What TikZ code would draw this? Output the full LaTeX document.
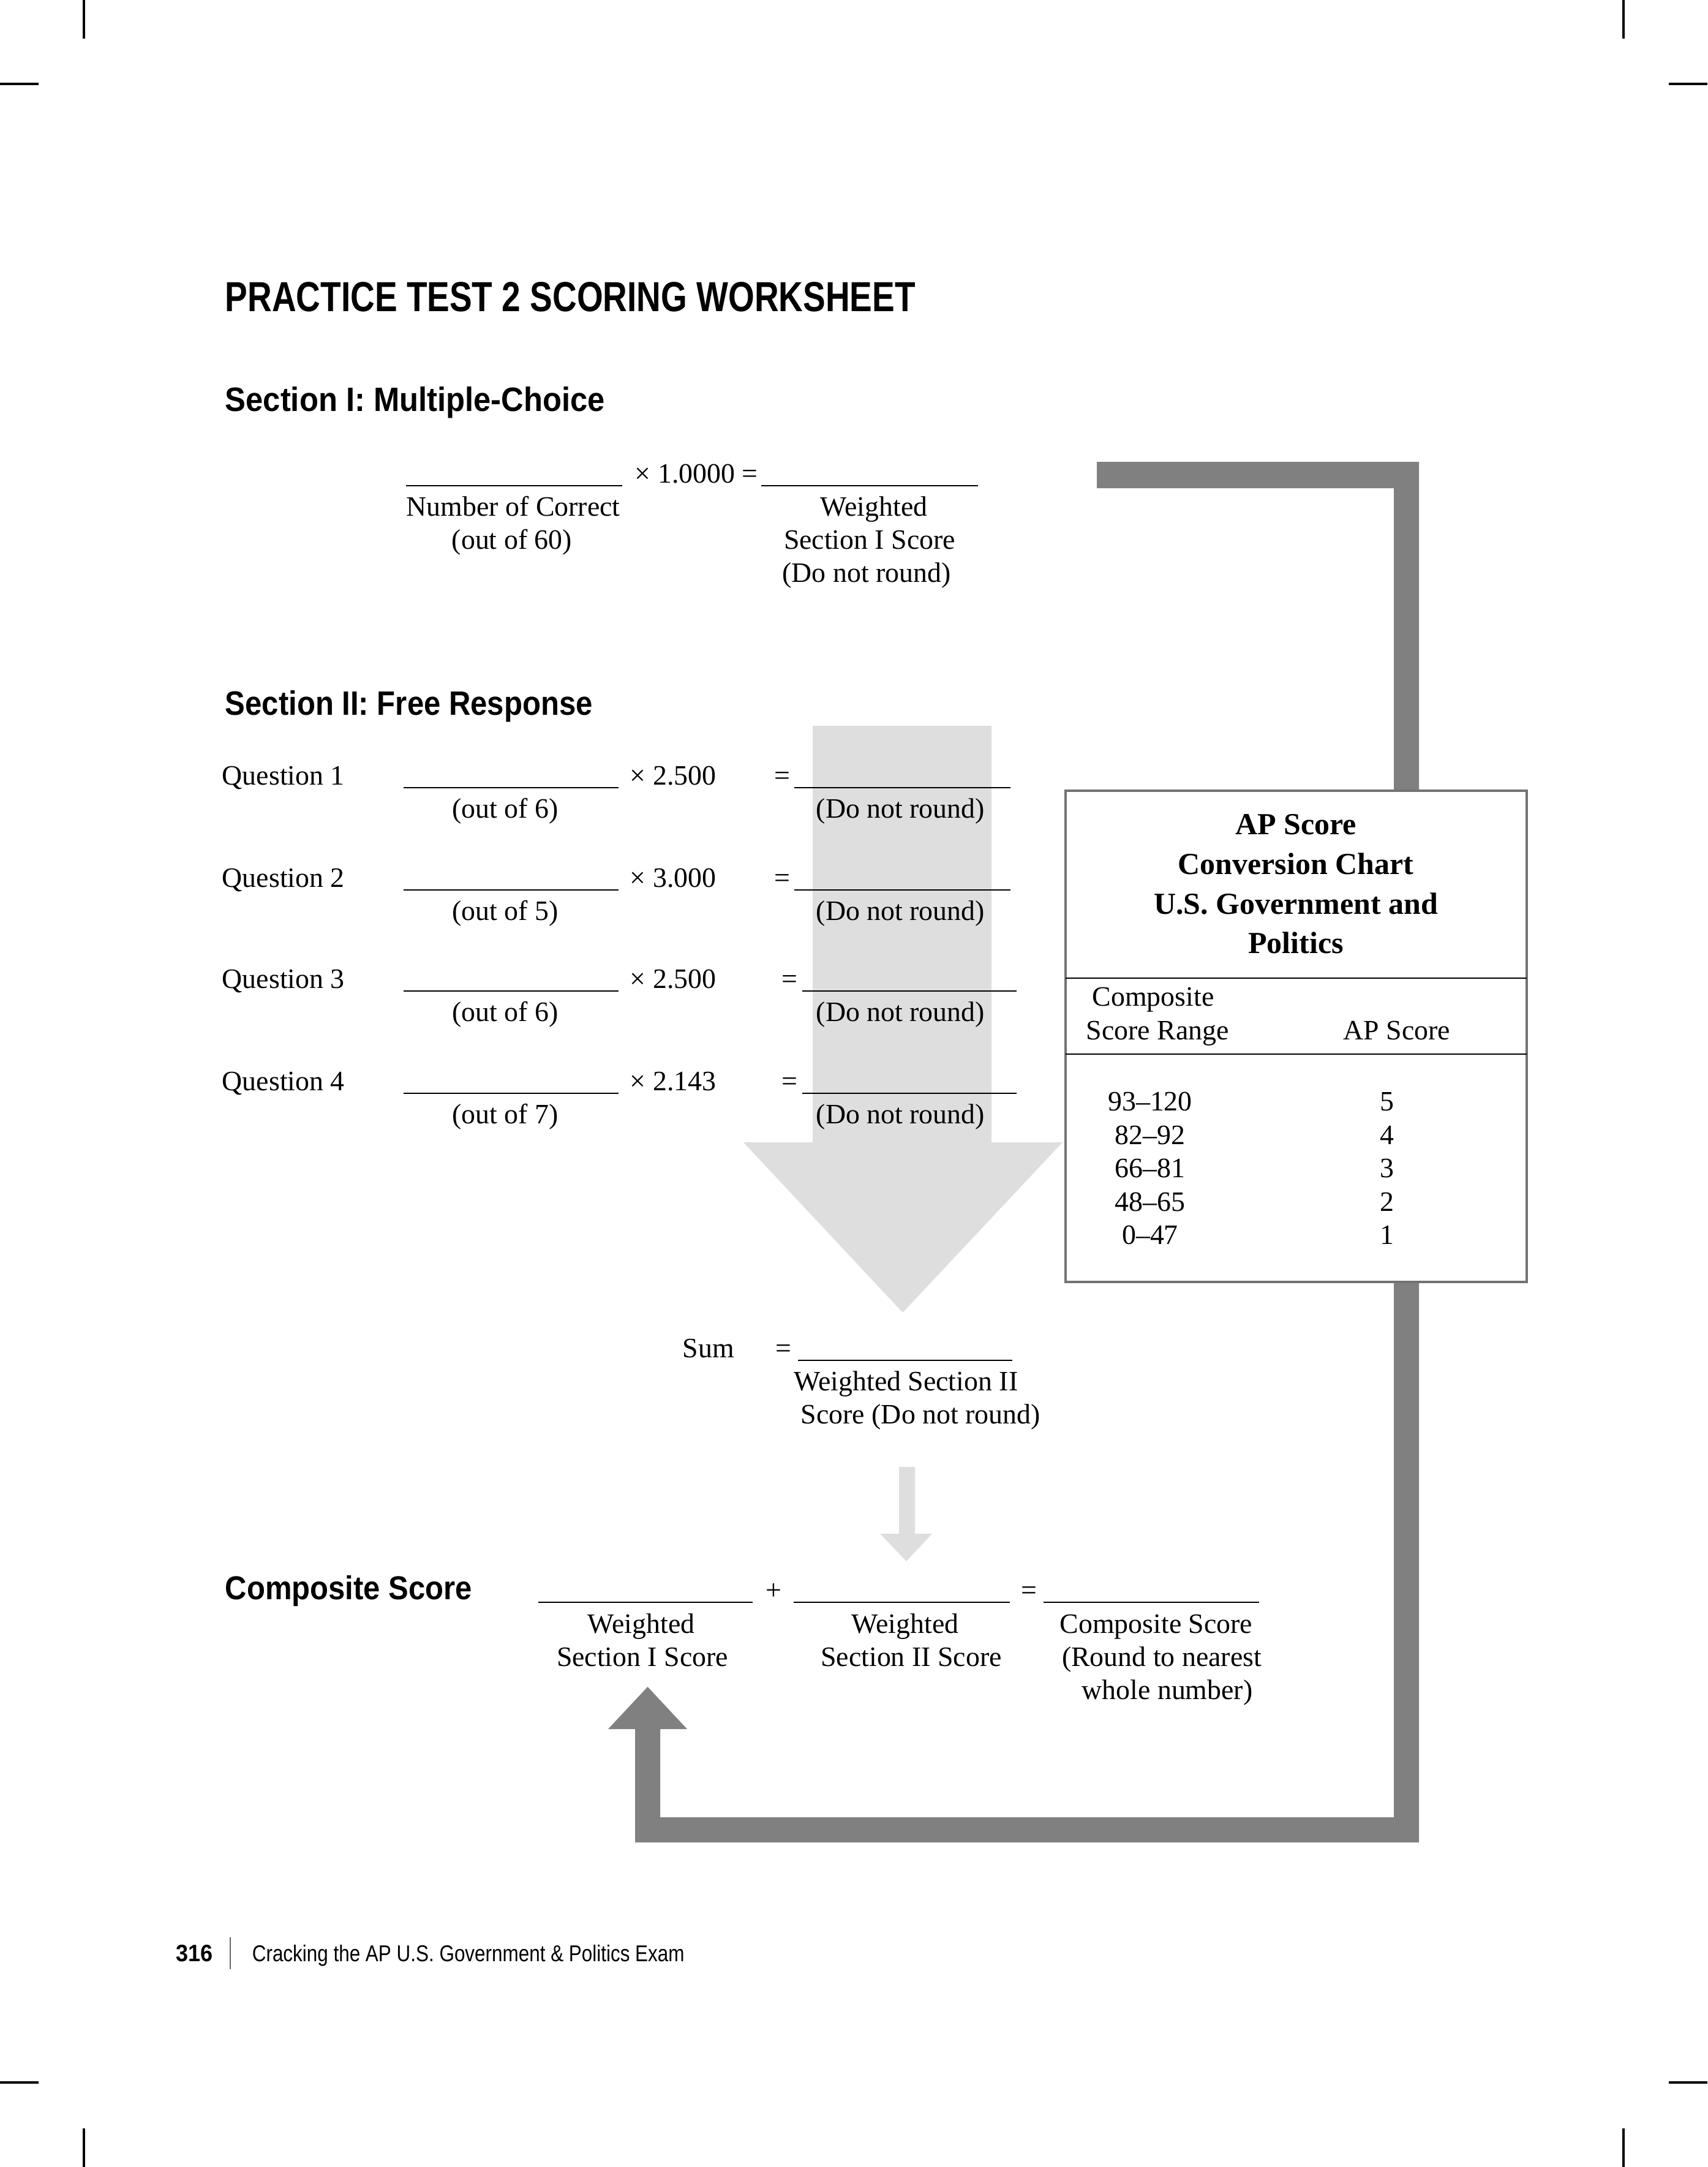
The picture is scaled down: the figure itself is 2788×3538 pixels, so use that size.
\documentclass[tikz,border=0pt]{standalone}
\usepackage{fontspec}
\setmainfont{Liberation Serif}
\setsansfont{Liberation Sans}
\newcommand\condtext[3]{\resizebox{#1}{#2}{#3}}
\begin{document}
\begin{tikzpicture}[x=0.24pt,y=-0.24pt,
  txt/.style={font=\fontsize{11}{13}\selectfont, inner sep=0pt},
  bw/.style={txt, anchor=base west},
  bc/.style={txt, anchor=base},
  chtitle/.style={font=\fontsize{12}{14}\selectfont\bfseries, inner sep=0pt, anchor=base},
  hd/.style={inner sep=0pt, anchor=base west},
  blank/.style={line width=0.6pt},
  crop/.style={line width=0.75pt},
  darkarrow/.style={fill=black!50},
  lightarrow/.style={fill=black!13},
  chartbox/.style={draw=black!55, line width=0.8pt, fill=white},
  rule/.style={line width=0.55pt},
  footbar/.style={draw=black!60, line width=0.4pt}]
\useasboundingbox (0,0) rectangle (2788,3538);

% crop marks
\draw[crop] (137,0) -- (137,63);   \draw[crop] (0,137) -- (63,137);
\draw[crop] (2651,0) -- (2651,63); \draw[crop] (2725,137) -- (2788,137);
\draw[crop] (0,3400) -- (63,3400); \draw[crop] (137,3475) -- (137,3538);
\draw[crop] (2725,3400) -- (2788,3400); \draw[crop] (2651,3475) -- (2651,3538);

% dark return arrow
\fill[darkarrow] (1791,754) -- (2317,754) -- (2317,3008) -- (1037,3008) -- (1037,2823)
  -- (993,2823) -- (1057.5,2754) -- (1122,2823) -- (1078,2823) -- (1078,2967)
  -- (2276,2967) -- (2276,797) -- (1791,797) -- cycle;

% light arrows
\fill[lightarrow] (1327,1185) -- (1619,1185) -- (1619,1865) -- (1735,1865) -- (1474,2143)
  -- (1214,1865) -- (1327,1865) -- cycle;
\fill[lightarrow] (1468,2395) -- (1494,2395) -- (1494,2504) -- (1522,2504) -- (1480,2549)
  -- (1437,2504) -- (1468,2504) -- cycle;

% conversion chart box
\draw[chartbox] (1740,1291) rectangle (2493,2093);
\draw[rule] (1740,1597) -- (2493,1597);
\draw[rule] (1740,1721) -- (2493,1721);

% headings
\node[hd] (title) at (367,508) {\condtext{270.5pt}{11.5pt}{\sffamily\bfseries PRACTICE TEST 2 SCORING WORKSHEET}};
\node[hd] (sec1) at (367,671) {\condtext{148.8pt}{9.6pt}{\sffamily\bfseries Section I: Multiple-Choice}};
\node[hd] (sec2) at (367,1167) {\condtext{144pt}{9.6pt}{\sffamily\bfseries Section II: Free Response}};
\node[hd] (comp) at (367,2611) {\condtext{96.7pt}{9.4pt}{\sffamily\bfseries Composite Score}};

% Section I
\draw[blank] (663,793) -- (1016,793);
\node[bw] (s1mul) at (1036,788) {× 1.0000 =};
\draw[blank] (1243,793) -- (1597,793);
\node[bw] (s1a) at (663,842) {Number of Correct};
\node[bw] (s1b) at (737,896) {(out of 60)};
\node[bc] (s1c) at (1427,842) {Weighted};
\node[bc] (s1d) at (1420,896) {Section I Score};
\node[bc] (s1e) at (1415,950) {(Do not round)};

% Section II questions
\foreach \n/\y/\m/\o/\ex/\rs/\re in {1/1281/2.500/6/1264/1297/1650, 2/1448/3.000/5/1264/1297/1650,
    3/1613/2.500/6/1276/1310/1660, 4/1780/2.143/7/1276/1310/1660}{
  \node[bw] (q\n) at (362,\y) {Question \n};
  \draw[blank] (659,\y+5) -- (1010,\y+5);
  \node[bw] (q\n mul) at (1028,\y) {× \m};
  \node[bw] (q\n eq) at (\ex,\y) {=};
  \draw[blank] (\rs,\y+5) -- (\re,\y+5);
  \node[bc] (q\n out) at (825,\y+54) {(out of \o)};
  \node[bw] (q\n dnr) at (1332,\y+54) {(Do not round)};
}

% Sum
\node[bw] (sum) at (1114,2216) {Sum};
\node[bw] (sumeq) at (1266,2216) {=};
\draw[blank] (1303,2221) -- (1653,2221);
\node[bw] (suma) at (1296,2270) {Weighted Section II};
\node[bw] (sumb) at (1307,2324) {Score (Do not round)};

% Composite
\draw[blank] (879,2616) -- (1229,2616);
\node[bw] (cplus) at (1250,2611) {+};
\draw[blank] (1296,2616) -- (1649,2616);
\node[bw] (ceq) at (1667,2611) {=};
\draw[blank] (1704,2616) -- (2056,2616);
\node[bc] (c1a) at (1047,2666) {Weighted};
\node[bc] (c1b) at (1049,2720) {Section I Score};
\node[bc] (c2a) at (1478,2666) {Weighted};
\node[bc] (c2b) at (1488,2720) {Section II Score};
\node[bc] (c3a) at (1888,2666) {Composite Score};
\node[bc] (c3b) at (1897,2720) {(Round to nearest};
\node[bc] (c3c) at (1906,2774) {whole number)};

% chart text
\node[chtitle] (ch1) at (2116,1362) {AP Score};
\node[chtitle] (ch2) at (2116,1427) {Conversion Chart};
\node[chtitle] (ch3) at (2116,1492) {U.S. Government and};
\node[chtitle] (ch4) at (2116,1556) {Politics};
\node[bw] (chc1) at (1783,1642) {Composite};
\node[bw] (chc2) at (1773,1697) {Score Range};
\node[bw] (chc3) at (2193,1697) {AP Score};
\foreach \r/\s/\y in {93–120/5/1813, 82–92/4/1868, 66–81/3/1922, 48–65/2/1977, 0–47/1/2031}{
  \node[bc] at (1878,\y) {\r};
  \node[bc] at (2265,\y) {\s};
}

% footer
\node[hd] (pg) at (287,3202) {\condtext{14.4pt}{6.5pt}{\sffamily\bfseries 316}};
\draw[footbar] (376,3163) -- (376,3215);
\node[hd] (foot) at (411,3202) {\condtext{169.4pt}{6.5pt}{\sffamily Cracking the AP U.S. Government \& Politics Exam}};
\end{tikzpicture}
\end{document}
